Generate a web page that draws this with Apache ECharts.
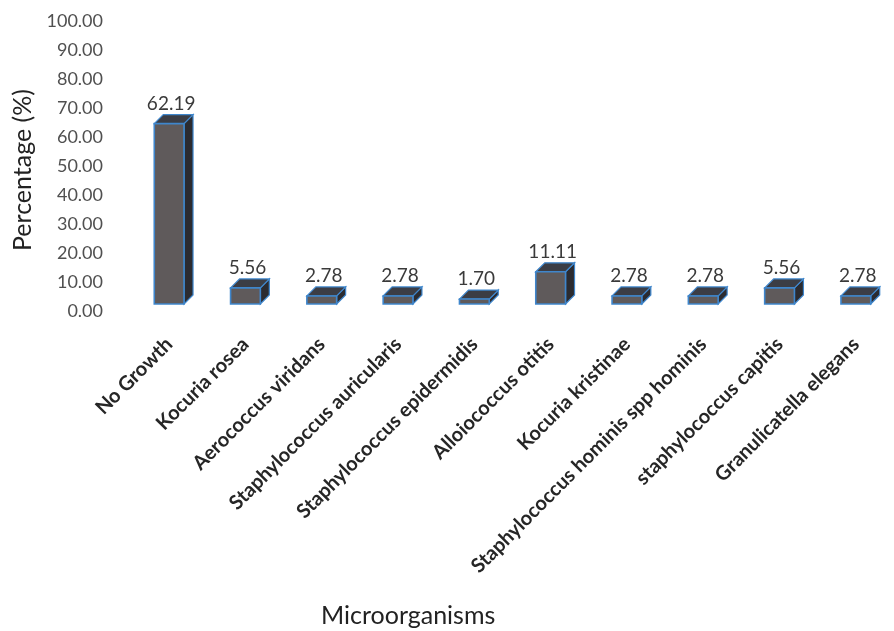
<!DOCTYPE html>
<html>
<head>
<meta charset="utf-8">
<script src="https://cdn.jsdelivr.net/npm/echarts@6/dist/echarts.min.js"></script>
<style>
html,body{margin:0;padding:0;background:#fff;}
#chart{width:894px;height:631px;}
</style>
</head>
<body>
<div id="chart"></div>
<script>
var categories = ["No Growth", "Kocuria rosea", "Aerococcus viridans", "Staphylococcus auricularis", "Staphylococcus epidermidis", "Alloiococcus otitis", "Kocuria kristinae", "Staphylococcus hominis spp hominis", "staphylococcus capitis", "Granulicatella elegans"];
var percentages = [62.19, 5.56, 2.78, 2.78, 1.70, 11.11, 2.78, 2.78, 5.56, 2.78];
var yTicks = [0, 10, 20, 30, 40, 50, 60, 70, 80, 90, 100];
var xTitle = 'Microorganisms';
var yTitle = 'Percentage (%)';

var chart = echarts.init(document.getElementById('chart'));

function renderBox(params, api) {
  var idx = api.value(0);
  var val = api.value(1);
  var top = api.coord([idx, val]);
  var base = api.coord([idx, 0]);
  var band = api.size([1, 0])[0];
  var w = band * 0.39;
  var dx = 9, dy = 9;
  var x0 = top[0] - w / 2, x1 = top[0] + w / 2;
  var yT = top[1], yB = base[1];
  var edge = '#3f86cc';
  return {
    type: 'group',
    children: [
      { type: 'polygon', shape: { points: [[x1, yT], [x1 + dx, yT - dy], [x1 + dx, yB - dy], [x1, yB]] },
        style: { fill: '#2b2b30', stroke: edge, lineWidth: 1.2 } },
      { type: 'polygon', shape: { points: [[x0, yT], [x0 + dx, yT - dy], [x1 + dx, yT - dy], [x1, yT]] },
        style: { fill: '#3b3d45', stroke: edge, lineWidth: 1.2 } },
      { type: 'rect', shape: { x: x0, y: yT, width: w, height: yB - yT },
        style: { fill: '#5f5a5b', stroke: edge, lineWidth: 1.6 } },
      { type: 'text', x: top[0] + 2, y: yT - dy - 11,
        style: { text: val.toFixed(2), fill: '#3a3a3a', font: '19px Lato', align: 'center', verticalAlign: 'middle' } }
    ]
  };
}

var data = percentages.map(function (v, i) { return [i, v]; });

chart.setOption({
  animation: false,
  backgroundColor: '#ffffff',
  title: {
    text: xTitle,
    left: 316, top: 598,
    textStyle: { fontFamily: 'Lato', fontSize: 25, fontWeight: 'normal', color: '#222' }
  },
  graphic: [{
    type: 'text', x: 23, y: 170, rotation: Math.PI / 2,
    style: { text: yTitle, font: '25px Lato', fill: '#222', align: 'center', verticalAlign: 'middle' }
  }],
  grid: { left: 131, top: 14, width: 788, bottom: 327, containLabel: false },
  xAxis: {
    type: 'category',
    data: categories,
    axisLine: { show: false },
    axisTick: { show: false },
    splitLine: { show: false },
    axisLabel: {
      rotate: 45, interval: 0, margin: 37,
      fontFamily: 'Lato', fontSize: 20, fontWeight: 'bold', color: '#262626'
    }
  },
  yAxis: {
    type: 'value',
    min: yTicks[0], max: yTicks[yTicks.length - 1], interval: 10,
    axisLine: { show: false },
    axisTick: { show: false },
    splitLine: { show: false },
    axisLabel: {
      margin: 28, verticalAlign: 'top', lineHeight: 14,
      fontFamily: 'Lato', fontSize: 18, color: '#505050',
      formatter: function (v) { return v.toFixed(2); }
    }
  },
  series: [{
    type: 'custom',
    renderItem: renderBox,
    data: data,
    encode: { x: 0, y: 1 },
    clip: false
  }]
});
</script>
</body>
</html>
